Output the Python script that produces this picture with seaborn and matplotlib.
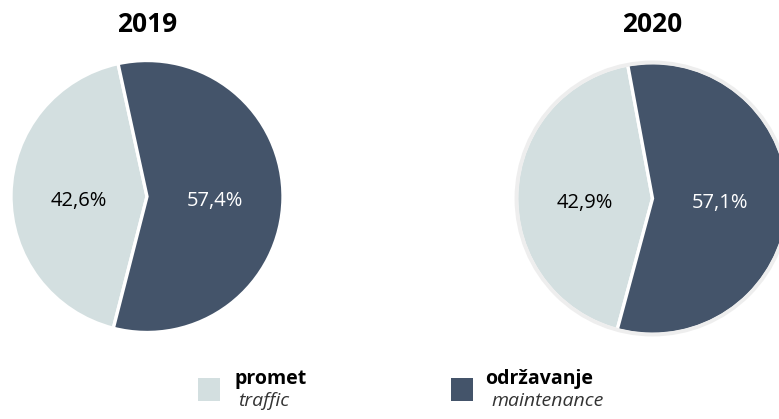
import matplotlib
matplotlib.use("Agg")
import matplotlib.pyplot as plt
import seaborn as sns
from matplotlib.patches import Circle

sns.set_theme(style="white")
plt.rcParams['font.family'] = ['Open Sans', 'DejaVu Sans']

years = ["2019", "2020"]
categories = ["promet", "održavanje"]
categories_en = ["traffic", "maintenance"]
values_2019 = [42.6, 57.4]
values_2020 = [42.9, 57.1]
labels_2019 = ["42,6%", "57,4%"]
labels_2020 = ["42,9%", "57,1%"]
colors = ["#d3dfe0", "#44546a"]

W, H = 779, 419
fig = plt.figure(figsize=(W / 100, H / 100), dpi=100)
fig.patch.set_facecolor("white")


def px_axes(cx, cy, r):
    return fig.add_axes([(cx - r) / W, 1 - (cy + r) / H, 2 * r / W, 2 * r / H])


pies = [
    (values_2019, labels_2019, 147, 196.5, 136, 102.3, False),
    (values_2020, labels_2020, 652.5, 198.5, 136, 100.5, True),
]

for (vals, labs, cx, cy, r, start, ring), year in zip(pies, years):
    ax = px_axes(cx, cy, r)
    wedges, texts = ax.pie(
        vals, colors=colors, startangle=start, counterclock=True,
        labels=labs, labeldistance=0.5,
        wedgeprops=dict(edgecolor="white", linewidth=2.4),
        textprops=dict(fontsize=14.5),
    )
    for t, c in zip(texts, ["black", "white"]):
        t.set_color(c)
        t.set_ha("center")
        t.set_va("center")
        t.set_y(-0.03)
    if ring:
        ax.add_patch(Circle((0, 0), 1.0, fill=False, edgecolor="#eeeeee",
                            linewidth=2.8, zorder=5, clip_on=False))
    ax.set_xlim(-1, 1)
    ax.set_ylim(-1, 1)
    ax.set_aspect("equal")
    ax.axis("off")
    fig.text(cx / W, 1 - 24 / H, year, ha="center", va="center",
             fontsize=19, fontweight="bold", color="black")

# legend
leg = [(198, 234, 238), (451, 485, 491)]
for (sx, tx, ix), col, cat, en in zip(leg, colors, categories, categories_en):
    fig.patches.append(plt.Rectangle((sx / W, 1 - 401 / H), 22 / W, 23 / H,
                                     transform=fig.transFigure, facecolor=col,
                                     edgecolor="none"))
    fig.text(tx / W, 1 - 384 / H, cat, ha="left", va="baseline",
             fontsize=14, fontweight="bold", color="black")
    fig.text(ix / W, 1 - 406 / H, en, ha="left", va="baseline",
             fontsize=14, fontstyle="italic", color="#333333")

fig.savefig("out.png", dpi=100, facecolor="white")
